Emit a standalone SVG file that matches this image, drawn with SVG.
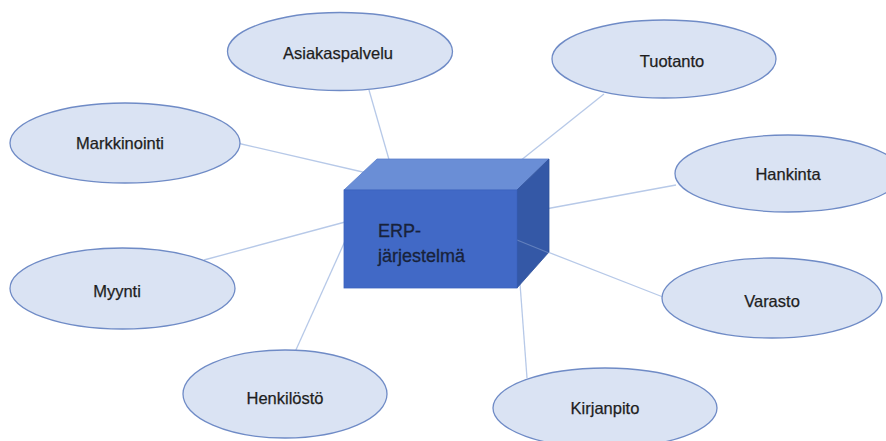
<svg xmlns="http://www.w3.org/2000/svg" width="886" height="441" viewBox="0 0 886 441">
  <style>
    .node ellipse { fill: #dae3f3; stroke: #6f8bc6; stroke-width: 1.3; }
    .node text { font-family: "Liberation Sans", Arial, sans-serif; font-size: 16.5px; fill: #1e1e1e; text-anchor: middle; stroke: #1e1e1e; stroke-width: 0.25; }
    .link { stroke: #b7c9e8; stroke-width: 1.3; fill: none; }
    .box-label { font-family: "Liberation Sans", Arial, sans-serif; font-size: 18px; fill: #18223a; stroke: #18223a; stroke-width: 0.3; }
  </style>
  <rect width="886" height="441" fill="#ffffff"/>

  <!-- spokes from the central system to each business function -->
  <g id="connectors">
    <line class="link" x1="369" y1="90" x2="392" y2="170"/>
    <line class="link" x1="237" y1="143" x2="380" y2="176"/>
    <line class="link" x1="604" y1="94" x2="515" y2="165"/>
    <line class="link" x1="676" y1="185" x2="540" y2="210"/>
    <line class="link" x1="663" y1="297" x2="517" y2="240"/>
    <line class="link" x1="527" y1="378" x2="519" y2="270"/>
    <line class="link" x1="295" y1="352" x2="350" y2="230"/>
    <line class="link" x1="204" y1="260" x2="360" y2="218"/>
  </g>

  <g id="asiakaspalvelu" class="node">
    <ellipse cx="340" cy="51.5" rx="112.5" ry="39"/>
    <text x="338" y="59">Asiakaspalvelu</text>
  </g>
  <g id="tuotanto" class="node">
    <ellipse cx="664" cy="59" rx="112" ry="39"/>
    <text x="672" y="67">Tuotanto</text>
  </g>
  <g id="markkinointi" class="node">
    <ellipse cx="125" cy="143" rx="115" ry="40"/>
    <text x="120" y="149">Markkinointi</text>
  </g>
  <g id="hankinta" class="node">
    <ellipse cx="788" cy="173.5" rx="113" ry="38.5"/>
    <text x="788" y="180">Hankinta</text>
  </g>
  <g id="myynti" class="node">
    <ellipse cx="122.5" cy="288.5" rx="112.5" ry="40.5"/>
    <text x="117" y="297">Myynti</text>
  </g>
  <g id="varasto" class="node">
    <ellipse cx="772" cy="298" rx="110" ry="40"/>
    <text x="772" y="307">Varasto</text>
  </g>
  <g id="henkilosto" class="node">
    <ellipse cx="285" cy="394" rx="102" ry="44"/>
    <text x="285" y="404">Henkilöstö</text>
  </g>
  <g id="kirjanpito" class="node">
    <ellipse cx="605" cy="408" rx="112" ry="40"/>
    <text x="605" y="414">Kirjanpito</text>
  </g>

  <!-- central ERP system drawn as a 3D block -->
  <g id="erp">
    <polygon points="344,190 377,159 549,159 517,190" fill="#6a8ed6" stroke="#5a7fcc" stroke-width="0.8"/>
    <polygon points="517,190 549,159 549,252 517,288" fill="#3458a6" stroke="#2f519b" stroke-width="0.8"/>
    <line x1="517" y1="240" x2="549" y2="253" stroke="#b7c9e8" stroke-width="1.2" opacity="0.35"/>
    <rect x="344" y="190" width="173" height="98" fill="#4169c6" stroke="#3a62bd" stroke-width="0.8"/>
    <text class="box-label" x="378" y="237">ERP-</text>
    <text class="box-label" x="378" y="262">järjestelmä</text>
  </g>
</svg>
